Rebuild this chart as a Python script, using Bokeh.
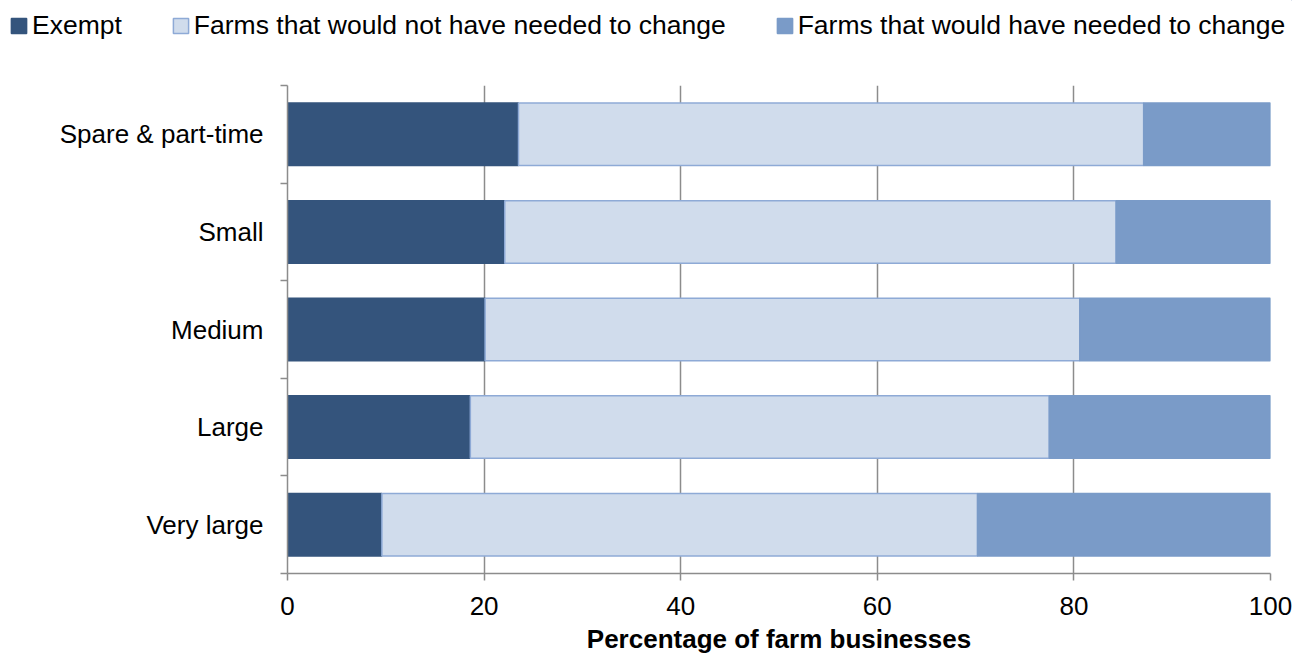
from bokeh.plotting import figure
from bokeh.layouts import column, row
from bokeh.models import (ColumnDataSource, Range1d, FixedTicker, Legend, LegendItem)
from bokeh.embed import file_html
from bokeh.resources import INLINE

categories = ["Spare & part-time", "Small", "Medium", "Large", "Very large"]
exempt = [23.5, 22.1, 20.1, 18.6, 9.6]
not_needed = [63.6, 62.2, 60.5, 58.9, 60.6]
needed = [12.9, 15.7, 19.4, 22.5, 29.8]
series_names = ["Exempt", "Farms that would not have needed to change",
                "Farms that would have needed to change"]
x_ticks = [0, 20, 40, 60, 80, 100]

n = len(categories)
ypos = [n - 1 - i for i in range(n)]
source = ColumnDataSource(dict(y=ypos, exempt=exempt, not_needed=not_needed,
                               needed=needed, cat=categories))

FONT = "Liberation Sans"
FS = "26px"
W = 1292
LEG_H = 50
H = 657 - LEG_H

fills = ["#34547c", "#d0dcec", "#7a9bc8"]
lines = ["#34547c", "#8eaad6", "#7a9bc8"]

p = figure(width=W, height=H, x_range=Range1d(0, 100),
           y_range=Range1d(-0.5, n - 0.5), output_backend="svg",
           toolbar_location=None, min_border_left=287, min_border_right=22,
           min_border_top=85 - LEG_H, min_border_bottom=84)
p.outline_line_color = None
p.background_fill_color = "white"

renderers = p.hbar_stack(["exempt", "not_needed", "needed"], y="y", height=0.64,
                         source=source, fill_color=fills, line_color=lines,
                         line_width=1.5)

# grid
p.ygrid.grid_line_color = None
p.xgrid.ticker = FixedTicker(ticks=x_ticks)
p.xgrid.grid_line_color = "#8c8c8c"
p.xgrid.grid_line_width = 1.5

# x axis
xa = p.xaxis[0]
xa.ticker = FixedTicker(ticks=x_ticks)
xa.axis_label = "Percentage of farm businesses"
xa.axis_label_text_font = FONT
xa.axis_label_text_font_style = "bold"
xa.axis_label_text_font_size = FS
xa.axis_label_text_color = "black"
xa.axis_label_standoff = 6
xa.major_label_text_font = FONT
xa.major_label_text_font_size = FS
xa.major_label_text_color = "black"
xa.major_label_standoff = 16
xa.axis_line_color = "#8c8c8c"
xa.axis_line_width = 1.5
xa.major_tick_line_color = "#8c8c8c"
xa.major_tick_line_width = 1.5
xa.major_tick_in = 0
xa.major_tick_out = 7
xa.minor_tick_line_color = None

# y axis: labels at centres, ticks at category boundaries
ya = p.yaxis[0]
ya.ticker = FixedTicker(ticks=ypos, minor_ticks=[v - 0.5 for v in range(n + 1)])
ya.major_label_overrides = {y: c for y, c in zip(ypos, categories)}
ya.major_label_text_font = FONT
ya.major_label_text_font_size = FS
ya.major_label_text_color = "black"
ya.major_label_standoff = 17
ya.major_tick_line_color = None
ya.major_tick_in = 0
ya.major_tick_out = 0
ya.minor_tick_line_color = "#8c8c8c"
ya.minor_tick_line_width = 1.5
ya.minor_tick_in = 0
ya.minor_tick_out = 7
ya.axis_line_color = "#8c8c8c"
ya.axis_line_width = 1.5

# legend strip above the chart (proxy glyphs lie far outside its visible range)
lf = figure(width=W, height=LEG_H, x_range=Range1d(0, 1), y_range=Range1d(0, 1),
            output_backend="svg", toolbar_location=None, min_border=0,
            x_axis_location=None, y_axis_location=None)
lf.outline_line_color = None
lf.grid.visible = False
proxies = []
for f, l in zip(fills, lines):
    proxies.append(lf.hbar(y=[50], left=[50], right=[51], height=0.5, fill_color=f,
                           line_color=l, line_width=1.5))
legend = Legend(items=[LegendItem(label=s, renderers=[r]) for s, r in zip(series_names, proxies)],
                orientation="horizontal", location=(9, 9),
                padding=0, margin=0, spacing=49, glyph_width=19, glyph_height=19,
                label_standoff=4, label_text_font=FONT, label_text_font_size="26.5px",
                label_text_color="black", border_line_color=None,
                background_fill_alpha=0)
lf.add_layout(legend, "center")

layout = column(row(lf), p, spacing=0)
open("out.html", "w").write(file_html(layout, INLINE))
